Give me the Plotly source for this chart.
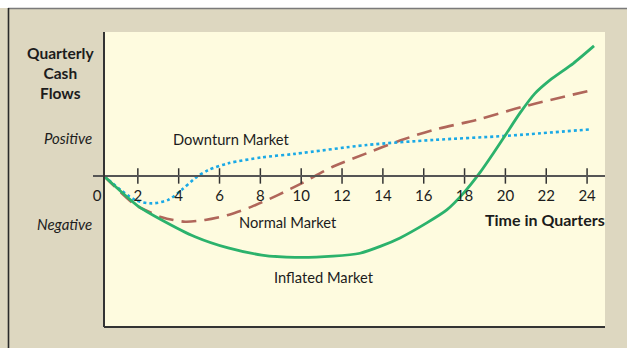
import plotly.graph_objects as go

# ---- data (x in quarters, y in arbitrary cash-flow units) ----
quarter_ticks = [0, 2, 4, 6, 8, 10, 12, 14, 16, 18, 20, 22, 24]
tick_marks = [2, 4, 6, 8, 10, 12, 14, 16, 18, 20, 22, 24]

inflated_x = [0.34, 1.99, 3.17, 4.80, 6.42, 8.07, 9.70, 11.56, 12.88, 13.90, 14.84, 16.15,
              17.13, 17.94, 18.76, 19.41, 20.06, 20.71, 21.45, 22.18, 23.33, 24.34]
inflated_y = [0, -1.01, -1.49, -2.06, -2.44, -2.68, -2.76, -2.72, -2.62, -2.38, -2.10, -1.59,
              -1.15, -0.59, 0.12, 0.77, 1.45, 2.13, 2.80, 3.25, 3.82, 4.41]

downturn_x = [0.34, 1.86, 2.68, 3.49, 4.15, 4.80, 5.45, 6.43, 8.07, 9.70, 13.21, 16.47, 20.06, 24.14]
downturn_y = [0, -0.81, -0.93, -0.81, -0.47, -0.08, 0.20, 0.43, 0.63, 0.75, 1.05, 1.22, 1.36, 1.58]

normal_x = [0.34, 1.86, 2.35, 3.17, 4.31, 5.29, 6.43, 7.58, 8.88, 10.02, 11.57, 13.21, 14.84,
            16.47, 18.59, 20.88, 24.30]
normal_y = [0, -0.98, -1.15, -1.40, -1.55, -1.49, -1.32, -1.04, -0.64, -0.25, 0.32, 0.77, 1.20,
            1.56, 1.90, 2.35, 2.92]

# ---- layout geometry ----
W, H = 627, 348
ML, MR, MT, MB = 93, 22, 32, 21
PW = W - ML - MR
PH = H - MT - MB


def px(x):
    return (x - ML) / PW


def py(y):
    return (H - MB - y) / PH


BEIGE = "#ddd7c0"
CREAM = "#fefbdf"
TXT = "#1c1c1c"
FONT = "Lato"

fig = go.Figure()

fig.add_trace(go.Scatter(x=normal_x, y=normal_y, mode="lines",
                         line=dict(color="#b0665a", width=2.6, dash="15px,8px", shape="spline", smoothing=0.8),
                         hoverinfo="skip"))
fig.add_trace(go.Scatter(x=downturn_x, y=downturn_y, mode="lines",
                         line=dict(color="#1aa9e6", width=2.6, dash="3px,3px", shape="spline", smoothing=0.8),
                         hoverinfo="skip"))
fig.add_trace(go.Scatter(x=inflated_x, y=inflated_y, mode="lines",
                         line=dict(color="#2bb26c", width=2.8, shape="spline", smoothing=0.6),
                         hoverinfo="skip"))
# crossing tick marks on the zero line
fig.add_trace(go.Scatter(x=tick_marks, y=[0] * len(tick_marks), mode="markers",
                         marker=dict(symbol="line-ns", size=11, line=dict(color="#333333", width=1.5)),
                         hoverinfo="skip", cliponaxis=False))

zero_pos = py(176)

shapes = [
    # cream plotting panel
    dict(type="rect", xref="paper", yref="paper", x0=px(104), x1=1, y0=0, y1=1,
         fillcolor=CREAM, line=dict(width=0), layer="below"),
    # white strip at top
    dict(type="rect", xref="paper", yref="paper", x0=px(0), x1=px(W), y0=py(8), y1=py(0),
         fillcolor="white", line=dict(width=0), layer="below"),
    # frame lines
    dict(type="line", xref="paper", yref="paper", x0=px(8), x1=px(W), y0=py(8.5), y1=py(8.5),
         line=dict(color="#7a7a7a", width=1.5)),
    dict(type="line", xref="paper", yref="paper", x0=px(8.5), x1=px(8.5), y0=py(8), y1=py(H),
         line=dict(color="#2a2a2a", width=1.6)),
    # bottom axis line
    dict(type="line", xref="paper", yref="paper", x0=px(104), x1=1, y0=0, y1=0,
         line=dict(color="#333333", width=2)),
]

ann = []


def add_text(text, x, y, size=15, bold=False, italic=False, xanchor="center", yanchor="middle", align="center"):
    t = f"<b>{text}</b>" if bold else text
    t = f"<i>{t}</i>" if italic else t
    ann.append(dict(text=t, x=px(x), y=py(y), xref="paper", yref="paper", showarrow=False,
                    xanchor=xanchor, yanchor=yanchor, align=align,
                    font=dict(family=FONT, size=size, color=TXT)))


add_text("Quarterly<br>Cash<br>Flows", 60, 73, size=15.5, bold=True)
add_text("Positive", 94, 138, size=15, italic=True, xanchor="right")
add_text("Negative", 94, 224, size=15, italic=True, xanchor="right")
add_text("Downturn Market", 171, 139, size=14.7, xanchor="left")
add_text("Normal Market", 237, 222, size=14.7, xanchor="left")
add_text("Inflated Market", 272, 277, size=14.7, xanchor="left")
add_text("Time in Quarters", 607, 220, size=16, bold=True, xanchor="right")

fig.update_layout(
    width=W, height=H,
    margin=dict(l=ML, r=MR, t=MT, b=MB),
    paper_bgcolor=BEIGE, plot_bgcolor=BEIGE,
    showlegend=False, hovermode=False,
    shapes=shapes, annotations=ann,
    xaxis=dict(range=[(ML - 97) / 20.42, (W - MR - 97) / 20.42], anchor="free", position=zero_pos,
               showline=True, linecolor="#555555", linewidth=1.5, ticks="",
               tickvals=quarter_ticks, ticktext=[str(v) for v in quarter_ticks],
               tickfont=dict(family=FONT, size=15, color=TXT), ticklabelstandoff=6,
               showgrid=False, zeroline=False, fixedrange=True),
    yaxis=dict(range=[-5.12, 4.88], anchor="free", position=px(104),
               showline=True, linecolor="#333333", linewidth=2,
               showticklabels=False, ticks="", showgrid=False, zeroline=False, fixedrange=True),
)

fig.write_html("out.html")
